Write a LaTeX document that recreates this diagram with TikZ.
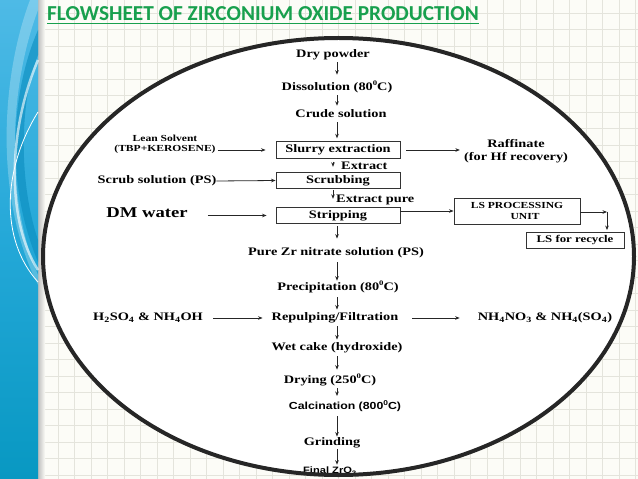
\documentclass[tikz,border=0pt]{standalone}
\usepackage{fontspec}
\setmainfont{Liberation Serif}
\newfontfamily\titlefont{Carlito}
\newfontfamily\tnr[FakeStretch=1.25]{Liberation Serif}
\newfontfamily\arl[FakeStretch=1.2]{Liberation Sans}
\usetikzlibrary{arrows.meta}
\definecolor{titlegreen}{RGB}{24,160,78}
\definecolor{gridc}{RGB}{228,228,220}
\definecolor{bgc}{RGB}{252,252,247}
\definecolor{bluetop}{RGB}{78,186,230}
\definecolor{bluemid}{RGB}{36,168,216}
\definecolor{bluebot}{RGB}{8,152,194}
\definecolor{bluedark}{RGB}{10,140,190}
\newcommand{\degz}{\raisebox{0.45em}{\fontsize{7}{7}\selectfont 0}}
\tikzset{
  txt/.style={font=\tnr\bfseries\fontsize{11.5}{13}\selectfont, inner sep=0pt, align=center},
  smalltxt/.style={font=\tnr\bfseries\fontsize{9.3}{9.8}\selectfont, inner sep=0pt, align=center},
  sanstxt/.style={font=\arl\bfseries\fontsize{10.3}{12}\selectfont, inner sep=0pt},
  stepbox/.style={draw=black!80, line width=0.9bp, inner sep=0pt, minimum width=124bp, minimum height=16.5bp,
    font=\tnr\bfseries\fontsize{11.5}{13}\selectfont},
  arr/.style={draw=black!85, line width=0.8bp, -{Stealth[length=4.5bp,width=3.6bp]}}
}
\begin{document}
\begin{tikzpicture}[x=1bp,y=-1bp]
\useasboundingbox (0,0) rectangle (638,479);
% background and grid
\fill[bgc] (0,0) rectangle (638,479);
\foreach \i in {0,...,38} {\draw[gridc, line width=0.7bp] ({8.8+16.5*\i},0) -- ({8.8+16.5*\i},479);}
\foreach \i in {0,...,28} {\draw[gridc, line width=0.7bp] (0,{13.2+16.5*\i}) -- (638,{13.2+16.5*\i});}
% left blue strip
\shade[left color=black!25, right color=bgc] (38,0) rectangle (45,479);
\shade[top color=bluetop, bottom color=bluebot, middle color=bluemid] (0,0) rectangle (38,479);
\fill[bluedark, opacity=0.6] (38,30) .. controls (12,90) and (4,180) .. (38,262) -- (38,240) .. controls (18,180) and (20,100) .. (38,55) -- cycle;
\fill[white, opacity=0.25] (30,0) .. controls (0,80) and (-5,200) .. (38,285) -- (38,275) .. controls (6,200) and (8,90) .. (38,10) -- (38,0) -- cycle;
\draw[white, line width=0.8bp] (38,112) .. controls (2,170) and (0,240) .. (38,282);
\draw[white, opacity=0.6, line width=2.5bp] (38,60) .. controls (8,130) and (6,220) .. (38,270);
% title
\node[font=\titlefont\bfseries\fontsize{21.4}{23}\selectfont, text=titlegreen, inner sep=0pt, anchor=base west]
  (title) at (47,20.5) {FLOWSHEET OF ZIRCONIUM OXIDE PRODUCTION};
\draw[titlegreen, line width=1.3bp] ([yshift=-3bp]title.base west) -- ([yshift=-3bp]title.base east);
% ellipse fill
\fill[white] (338.5,256.5) ellipse [x radius=295.5, y radius=218.5];
\coordinate (ax) at (337,0);
% main column
\node[txt] (dry) at (333,55) {Dry powder};
\node[txt] (diss) at (337,87) {Dissolution (80\degz C)};
\node[txt] (crude) at (341,114) {Crude solution};
\node[stepbox] (slurry) at (338,150) {Slurry extraction};
\node[stepbox] (scrub) at (338,180.5) {Scrubbing};
\node[stepbox] (strip) at (338,215.5) {Stripping};
\node[txt, anchor=west] (extract) at (341,166) {Extract};
\node[txt, anchor=west] (extractpure) at (336,200) {Extract pure};
\node[txt] (purezr) at (336,253) {Pure Zr nitrate solution (PS)};
\node[txt] (precip) at (338,287) {Precipitation (80\degz C)};
\node[txt] (repulp) at (335,318) {Repulping/Filtration};
\node[txt] (wet) at (337,348) {Wet cake (hydroxide)};
\node[txt] (drying) at (330,380) {Drying (250\degz C)};
\node[sanstxt] (calc) at (345,406) {Calcination (800\degz C)};
\node[txt] (grind) at (332,443) {Grinding};
\node[sanstxt, font=\arl\bfseries\fontsize{9.3}{10}\selectfont] (final) at (330,471) {Final ZrO\textsubscript{2}};
% side inputs / outputs
\node[smalltxt] (lean) at (165,144) {Lean Solvent\\(TBP+KEROSENE)};
\node[txt] (raff) at (516,151) {Raffinate\\(for Hf recovery)};
\node[txt] (scrubsol) at (157,181) {Scrub solution (PS)};
\node[txt, font=\tnr\bfseries\fontsize{15}{17}\selectfont] (dm) at (147,213) {DM water};
\node[draw=black!80, line width=0.9bp, minimum width=126bp, minimum height=26bp, inner sep=0pt,
  align=center, font=\tnr\bfseries\fontsize{9.3}{10.3}\selectfont] (lsp) at (517,211) {LS PROCESSING\\\hspace*{16bp}UNIT};
\node[draw=black!80, line width=0.9bp, minimum width=98bp, minimum height=16bp, inner sep=0pt,
  font=\tnr\bfseries\fontsize{10.3}{11}\selectfont] (lsr) at (575,240) {LS for recycle};
\coordinate (corner) at (607,212);
\node[txt] (h2so4) at (148,318) {H\textsubscript{2}SO\textsubscript{4} \& NH\textsubscript{4}OH};
\node[txt] (nh4) at (545,318) {NH\textsubscript{4}NO\textsubscript{3} \& NH\textsubscript{4}(SO\textsubscript{4})};
% vertical arrows
\draw[arr, shorten <=2bp, shorten >=6bp] (dry.south -| ax) -- (diss.north -| ax);
\draw[arr, shorten <=2bp, shorten >=4bp] (diss.south -| ax) -- (crude.north -| ax);
\draw[arr, shorten <=4bp, shorten >=3bp] (crude.south -| ax) -- (slurry.north -| ax);
\draw[arr, shorten <=3bp, shorten >=5bp] ([xshift=-4bp]slurry.south -| ax) -- ([xshift=-4bp]scrub.north -| ax);
\draw[arr, shorten <=1bp, shorten >=8bp] ([xshift=-4bp]scrub.south -| ax) -- ([xshift=-4bp]strip.north -| ax);
\draw[arr, shorten <=2bp, shorten >=9bp] (strip.south -| ax) -- (purezr.north -| ax);
\draw[arr, shorten <=4bp, shorten >=0bp] (purezr.south -| ax) -- (precip.north -| ax);
\draw[arr, shorten <=4bp, shorten >=3bp] (precip.south -| ax) -- (repulp.north -| ax);
\draw[arr, shorten <=3bp, shorten >=3bp] (repulp.south -| ax) -- (wet.north -| ax);
\draw[arr, shorten <=3bp, shorten >=4bp] (wet.south -| ax) -- (drying.north -| ax);
\draw[arr, shorten <=2bp, shorten >=4bp] (drying.south -| ax) -- (calc.north -| ax);
\draw[arr, shorten <=4bp, shorten >=1bp] (calc.south -| ax) -- (grind.north -| ax);
\draw[arr, shorten <=1bp, shorten >=2bp] (grind.south -| ax) -- (final.north -| ax);
% horizontal arrows
\draw[arr, shorten <=2bp, shorten >=10bp] (lean.east |- slurry.west) -- (slurry.west);
\draw[arr, shorten <=6bp, shorten >=4bp] (slurry.east) -- (slurry.east -| raff.west);
\draw[arr] (scrubsol.east) -- (scrub.west);
\draw[arr, shorten <=20bp, shorten >=9bp] (dm.east |- strip.west) -- (strip.west);
\draw[arr] (strip.east |- lsp.west) -- (lsp.west);
\draw[arr] (lsp.east |- corner) -- (corner);
\draw[arr, shorten >=1.5bp] (corner) -- (corner |- lsr.north);
\draw[arr, shorten <=10bp, shorten >=9bp] (h2so4.east) -- (repulp.west);
\draw[arr, shorten <=14bp, shorten >=18bp] (repulp.east) -- (nh4.west);
% ellipse outline
\draw[black!85, line width=4bp] (338.5,256.5) ellipse [x radius=295.5, y radius=218.5];
\end{tikzpicture}
\end{document}
